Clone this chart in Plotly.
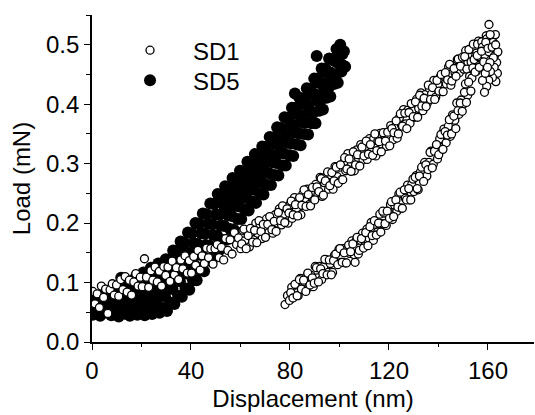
import plotly.graph_objects as go

# ---------------- data ----------------
# SD1 loading branch (open circles), two interleaved passes of read-off points
SD1_LOAD_X = [0.3, 1.2, 2.1, 3.0, 3.8, 4.7, 5.5, 6.4, 7.3, 8.2, 9.0,
              9.9, 10.8, 11.6, 12.5, 13.4, 14.2, 15.1, 16.0, 16.9, 17.7, 18.6, 19.5,
              20.3, 21.2, 22.0, 22.9, 23.8, 24.6, 25.5, 26.4, 27.2, 28.1, 29.0, 29.8,
              30.7, 31.5, 32.4, 33.3, 34.1, 35.0, 35.9, 36.7, 37.6, 38.5, 39.3,
              40.2, 41.1, 41.9, 42.8, 43.7, 44.5, 45.4, 46.3, 47.1, 48.0, 48.9, 49.7,
              50.6, 51.4, 52.3, 53.2, 54.0, 54.9, 55.8, 56.6, 57.5, 58.4, 59.2,
              60.1, 61.0, 61.8, 62.7, 63.6, 64.4, 65.3, 66.2, 67.0, 67.9, 68.8, 69.6,
              70.5, 71.4, 72.2, 73.1, 74.0, 74.8, 75.7, 76.6, 77.4, 78.3, 79.2,
              80.0, 80.9, 81.8, 82.6, 83.5, 84.4, 85.2, 86.1, 87.0, 87.8, 88.7, 89.6,
              90.4, 91.3, 92.2, 93.0, 93.9, 94.8, 95.6, 96.5, 97.4, 98.2, 99.1, 99.9,
              100.8, 101.7, 102.5, 103.4, 104.3, 105.1, 106.0, 106.9, 107.7, 108.6, 109.5,
              110.3, 111.2, 112.1, 112.9, 113.8, 114.7, 115.5, 116.4, 117.3, 118.1, 119.0, 119.9,
              120.7, 121.6, 122.5, 123.3, 124.2, 125.1, 125.9, 126.8, 127.7, 128.5, 129.4,
              130.3, 131.1, 132.0, 132.9, 133.7, 134.6, 135.5, 136.3, 137.2, 138.1, 138.9, 139.8,
              140.6, 141.5, 142.4, 143.2, 144.1, 145.0, 145.8, 146.7, 147.6, 148.4, 149.3,
              150.2, 151.0, 151.9, 152.8, 153.6, 154.5, 155.4, 156.2, 157.1, 158.0, 158.8, 159.7,
              160.4, 161.2]
SD1_LOAD_Y = [0.085, 0.064, 0.081, 0.058, 0.094, 0.075, 0.089, 0.048, 0.088, 0.098, 0.079,
              0.096, 0.077, 0.105, 0.088, 0.110, 0.084, 0.104, 0.079, 0.101, 0.115, 0.094, 0.109,
              0.093, 0.140, 0.109, 0.092, 0.120, 0.104, 0.126, 0.101, 0.119, 0.094, 0.127, 0.112,
              0.126, 0.102, 0.136, 0.113, 0.125, 0.105, 0.138, 0.123, 0.145, 0.116, 0.137,
              0.116, 0.144, 0.129, 0.154, 0.121, 0.145, 0.132, 0.158, 0.142, 0.157, 0.131, 0.157,
              0.164, 0.142, 0.159, 0.138, 0.174, 0.154, 0.172, 0.148, 0.184, 0.164, 0.175,
              0.157, 0.188, 0.170, 0.186, 0.160, 0.185, 0.172, 0.200, 0.183, 0.198, 0.174, 0.193,
              0.207, 0.184, 0.203, 0.183, 0.214, 0.200, 0.224, 0.197, 0.215, 0.225, 0.200,
              0.231, 0.208, 0.243, 0.222, 0.239, 0.214, 0.249, 0.236, 0.257, 0.231, 0.251, 0.240,
              0.265, 0.248, 0.277, 0.245, 0.268, 0.279, 0.257, 0.281, 0.257, 0.295, 0.278, 0.294,
              0.273, 0.302, 0.288, 0.317, 0.289, 0.308, 0.288, 0.323, 0.309, 0.332, 0.306,
              0.329, 0.307, 0.342, 0.320, 0.342, 0.313, 0.338, 0.351, 0.327, 0.349, 0.329, 0.347,
              0.364, 0.340, 0.362, 0.343, 0.377, 0.364, 0.391, 0.367, 0.390, 0.368, 0.390,
              0.378, 0.408, 0.393, 0.419, 0.389, 0.416, 0.402, 0.427, 0.417, 0.440, 0.412, 0.434,
              0.445, 0.421, 0.447, 0.434, 0.463, 0.432, 0.464, 0.453, 0.475, 0.453, 0.473,
              0.459, 0.490, 0.471, 0.492, 0.466, 0.495, 0.486, 0.506, 0.481, 0.505, 0.491, 0.515,
              0.534, 0.493]
SD1_LOAD2_X = [60.5, 61.4, 62.3, 63.1, 64.0, 64.9, 65.7, 66.6, 67.5, 68.3, 69.2,
               70.1, 71.0, 71.8, 72.7, 73.6, 74.4, 75.3, 76.2, 77.0, 77.9, 78.8, 79.6,
               80.5, 81.3, 82.2, 83.1, 83.9, 84.8, 85.7, 86.5, 87.4, 88.3, 89.1,
               90.0, 90.9, 91.7, 92.6, 93.5, 94.3, 95.2, 96.1, 96.9, 97.8, 98.7, 99.5,
               100.4, 101.3, 102.1, 103.0, 103.9, 104.7, 105.6, 106.5, 107.3, 108.2, 109.1, 109.9,
               110.8, 111.7, 112.5, 113.4, 114.3, 115.1, 116.0, 116.9, 117.7, 118.6, 119.5,
               120.3, 121.2, 122.0, 122.9, 123.8, 124.6, 125.5, 126.4, 127.2, 128.1, 129.0, 129.8,
               130.7, 131.6, 132.4, 133.3, 134.2, 135.0, 135.9, 136.8, 137.6, 138.5, 139.4,
               140.2, 141.1, 141.9, 142.8, 143.7, 144.5, 145.4, 146.3, 147.1, 148.0, 148.9, 149.7,
               150.6, 151.5, 152.3, 153.2, 154.1, 154.9, 155.8, 156.7, 157.5, 158.4, 159.3, 160.1, 161.0]
SD1_LOAD2_Y = [0.165, 0.190, 0.157, 0.179, 0.191, 0.168, 0.188, 0.167, 0.204, 0.186, 0.198,
               0.176, 0.198, 0.211, 0.189, 0.203, 0.186, 0.218, 0.204, 0.229, 0.201, 0.224, 0.217,
               0.237, 0.214, 0.231, 0.212, 0.243, 0.230, 0.256, 0.228, 0.248, 0.229, 0.260,
               0.239, 0.261, 0.253, 0.275, 0.247, 0.271, 0.286, 0.263, 0.285, 0.271, 0.294, 0.267,
               0.298, 0.273, 0.310, 0.291, 0.308, 0.287, 0.320, 0.298, 0.315, 0.296, 0.328, 0.313,
               0.338, 0.316, 0.332, 0.314, 0.350, 0.322, 0.337, 0.320, 0.352, 0.338, 0.353,
               0.330, 0.359, 0.352, 0.372, 0.350, 0.384, 0.363, 0.385, 0.359, 0.386, 0.401, 0.379,
               0.404, 0.378, 0.415, 0.397, 0.410, 0.396, 0.432, 0.408, 0.428, 0.408, 0.440,
               0.422, 0.450, 0.421, 0.453, 0.441, 0.467, 0.439, 0.460, 0.447, 0.476, 0.464, 0.479,
               0.480, 0.459, 0.492, 0.471, 0.501, 0.480, 0.501, 0.478, 0.505, 0.495, 0.515, 0.494, 0.513]

# SD1 unloading branch (open circles)
SD1_UNLOAD_X = [78.0, 79.0, 79.8, 80.7, 81.6, 82.4, 83.3, 84.2, 85.0, 85.9, 86.8,
                87.6, 88.5, 89.4, 90.2, 91.1, 92.0, 92.8, 93.7, 94.6, 95.4, 96.3, 97.2, 98.0, 98.9, 99.8,
                100.7, 101.5, 102.4, 103.3, 104.1, 105.0, 105.9, 106.7, 107.6, 108.5, 109.3,
                110.2, 111.1, 111.9, 112.8, 113.7, 114.5, 115.4, 116.3, 117.1, 118.0, 118.9, 119.7,
                120.6, 121.4, 122.3, 123.2, 124.0, 124.9, 125.8, 126.6, 127.5, 128.4, 129.2,
                130.1, 131.0, 131.8, 132.7, 133.6, 134.4, 135.3, 136.2, 137.0, 137.9, 138.8, 139.6,
                140.5, 141.4, 142.2, 143.1, 144.0, 144.8, 145.7, 146.6, 147.4, 148.3, 149.2,
                150.0, 150.9, 151.8, 152.6, 153.5, 154.4, 155.2, 156.1, 157.0, 157.8, 158.7, 159.6,
                160.4, 161.3, 162.1, 163.0]
SD1_UNLOAD_Y = [0.063, 0.078, 0.070, 0.092, 0.076, 0.096, 0.078, 0.107, 0.088, 0.101, 0.111,
                0.092, 0.112, 0.093, 0.127, 0.108, 0.127, 0.105, 0.127, 0.138, 0.117, 0.132, 0.117, 0.146, 0.133, 0.156,
                0.134, 0.157, 0.133, 0.157, 0.149, 0.170, 0.147, 0.170, 0.148, 0.171, 0.183,
                0.161, 0.190, 0.175, 0.201, 0.171, 0.198, 0.185, 0.215, 0.199, 0.217, 0.196, 0.220,
                0.231, 0.206, 0.230, 0.220, 0.249, 0.225, 0.250, 0.242, 0.264, 0.239, 0.265,
                0.253, 0.280, 0.256, 0.286, 0.277, 0.302, 0.279, 0.302, 0.321, 0.299, 0.324, 0.308,
                0.342, 0.327, 0.358, 0.335, 0.363, 0.346, 0.382, 0.373, 0.402, 0.383, 0.407,
                0.400, 0.434, 0.415, 0.447, 0.444, 0.475, 0.455, 0.480, 0.463, 0.496, 0.483, 0.510,
                0.488, 0.515, 0.504, 0.517]
SD1_UNLOAD2_X = [80.3, 81.2, 82.0, 82.9, 83.8, 84.6, 85.5, 86.4, 87.2, 88.1, 89.0, 89.8,
                 90.7, 91.5, 92.4, 93.3, 94.1, 95.0, 95.9, 96.7, 97.6, 98.5, 99.3,
                 100.2, 101.1, 101.9, 102.8, 103.7, 104.5, 105.4, 106.3, 107.1, 108.0, 108.9, 109.7,
                 110.6, 111.5, 112.3, 113.2, 114.1, 114.9, 115.8, 116.7, 117.5, 118.4, 119.3,
                 120.2, 121.0, 121.9, 122.8, 123.6, 124.5, 125.4, 126.2, 127.1, 128.0, 128.8, 129.7,
                 130.6, 131.4, 132.3, 133.2, 134.0, 134.9, 135.8, 136.6, 137.5, 138.4, 139.2,
                 140.1, 141.0, 141.8, 142.7, 143.6, 144.4, 145.3, 146.2, 147.0, 147.9, 148.8, 149.6,
                 150.5, 151.3, 152.2, 153.1, 153.9, 154.8, 155.7, 156.5, 157.4, 158.3, 159.1, 160.0,
                 160.9, 161.7, 162.6,
                 163.2, 163.8, 163.5, 164.0, 163.1, 162.5, 161.8, 162.2, 161.0, 160.3, 159.5, 158.6,
                 157.8, 158.9, 160.8, 159.8]
SD1_UNLOAD2_Y = [0.083, 0.074, 0.097, 0.078, 0.105, 0.089, 0.104, 0.085, 0.116, 0.096, 0.108, 0.099,
                 0.125, 0.101, 0.123, 0.115, 0.139, 0.113, 0.138, 0.113, 0.137, 0.148, 0.130,
                 0.157, 0.134, 0.150, 0.133, 0.163, 0.152, 0.165, 0.134, 0.176, 0.154, 0.174, 0.158,
                 0.184, 0.162, 0.194, 0.179, 0.204, 0.180, 0.200, 0.185, 0.220, 0.199, 0.220,
                 0.208, 0.236, 0.211, 0.239, 0.227, 0.252, 0.225, 0.256, 0.239, 0.258, 0.239, 0.274,
                 0.277, 0.258, 0.279, 0.294, 0.270, 0.298, 0.290, 0.319, 0.293, 0.321, 0.332,
                 0.315, 0.349, 0.324, 0.354, 0.348, 0.374, 0.350, 0.380, 0.359, 0.389, 0.402, 0.388,
                 0.420, 0.403, 0.437, 0.422, 0.461, 0.454, 0.482, 0.462, 0.489, 0.471, 0.504, 0.494,
                 0.517, 0.496, 0.481,
                 0.438, 0.452, 0.470, 0.488, 0.500, 0.462, 0.445, 0.478, 0.455, 0.440, 0.430, 0.420,
                 0.440, 0.452, 0.470, 0.462]

# SD5 loading branch (filled circles): lower edge, two inner rows, upper edge of the dense band
SD5_LOW_X = [0.3, 1.8, 3.3, 4.8, 6.3, 7.8, 9.3, 10.8, 12.3, 13.8, 15.3, 16.8, 18.3, 19.8, 21.3, 22.8, 24.3,
             25.8, 27.3, 28.8, 30.3, 31.8, 33.3, 34.8, 36.3, 37.8, 39.3, 40.8, 42.3, 43.8, 45.3, 46.8, 48.3,
             49.8, 51.3, 52.8, 54.3, 55.8, 57.3, 58.8, 60.3, 61.8, 63.3, 64.8, 66.3, 67.8, 69.3, 70.8, 72.3,
             73.8, 75.3, 76.8, 78.3, 79.8, 81.3, 82.8, 84.3, 85.8, 87.3, 88.8, 90.3, 91.8, 93.3, 94.8, 96.3,
             97.8, 99.3, 100.8, 102.3]
SD5_LOW_Y = [0.046, 0.050, 0.044, 0.049, 0.052, 0.045, 0.048, 0.043, 0.051, 0.047, 0.044, 0.050, 0.046, 0.049,
             0.045, 0.052, 0.047, 0.055, 0.049, 0.057, 0.052, 0.066, 0.064, 0.078, 0.076, 0.090, 0.088,
             0.104, 0.104, 0.121, 0.119, 0.137, 0.136, 0.153, 0.154, 0.171, 0.172, 0.190, 0.189, 0.207,
             0.207, 0.223, 0.221, 0.236, 0.234, 0.250, 0.248, 0.264, 0.264, 0.281, 0.280, 0.297, 0.297,
             0.314, 0.313, 0.332, 0.331, 0.350, 0.349, 0.368, 0.368, 0.389, 0.391, 0.411, 0.413, 0.434,
             0.436, 0.455, 0.463]
SD5_MID1_X = [1.0, 2.5, 4.0, 5.5, 7.0, 8.5, 10.0, 11.5, 13.0, 14.5, 16.0, 17.5, 19.0, 20.5, 22.0, 23.5, 25.0,
              26.5, 28.0, 29.5, 31.0, 32.5, 34.0, 35.5, 37.0, 38.5, 40.0, 41.5, 43.0, 44.5, 46.0, 47.5, 49.0,
              50.5, 52.0, 53.5, 55.0, 56.5, 58.0, 59.5, 61.0, 62.5, 64.0, 65.5, 67.0, 68.5, 70.0, 71.5, 73.0,
              74.5, 76.0, 77.5, 79.0, 80.5, 82.0, 83.5, 85.0, 86.5, 88.0, 89.5, 91.0, 92.5, 94.0, 95.5, 97.0,
              98.5, 100.0, 101.5]
SD5_MID1_Y = [0.058, 0.053, 0.061, 0.055, 0.063, 0.056, 0.065, 0.058, 0.068, 0.060, 0.070, 0.063, 0.073,
              0.066, 0.076, 0.069, 0.080, 0.073, 0.084, 0.077, 0.091, 0.089, 0.104, 0.102, 0.117, 0.115,
              0.130, 0.129, 0.147, 0.146, 0.163, 0.162, 0.180, 0.179, 0.196, 0.195, 0.213, 0.212, 0.229,
              0.228, 0.245, 0.242, 0.258, 0.256, 0.272, 0.269, 0.285, 0.284, 0.302, 0.301, 0.318, 0.317,
              0.335, 0.334, 0.352, 0.351, 0.369, 0.369, 0.387, 0.386, 0.406, 0.407, 0.426, 0.427, 0.447,
              0.448, 0.467, 0.465]
SD5_MID2_X = [0.6, 2.1, 3.6, 5.1, 6.6, 8.1, 9.6, 11.1, 12.6, 14.1, 15.6, 17.1, 18.6, 20.1, 21.6, 23.1, 24.6,
              26.1, 27.6, 29.1, 30.6, 32.1, 33.6, 35.1, 36.6, 38.1, 39.6, 41.1, 42.6, 44.1, 45.6, 47.1, 48.6,
              50.1, 51.6, 53.1, 54.6, 56.1, 57.6, 59.1, 60.6, 62.1, 63.6, 65.1, 66.6, 68.1, 69.6, 71.1, 72.6,
              74.1, 75.6, 77.1, 78.6, 80.1, 81.6, 83.1, 84.6, 86.1, 87.6, 89.1, 90.6, 92.1, 93.6, 95.1, 96.6,
              98.1, 99.6, 101.1]
SD5_MID2_Y = [0.059, 0.067, 0.062, 0.071, 0.065, 0.075, 0.068, 0.079, 0.073, 0.084, 0.078, 0.089, 0.083,
              0.094, 0.088, 0.100, 0.094, 0.106, 0.100, 0.112, 0.107, 0.123, 0.121, 0.137, 0.135, 0.151,
              0.149, 0.166, 0.165, 0.183, 0.182, 0.199, 0.198, 0.215, 0.214, 0.231, 0.229, 0.245, 0.244,
              0.261, 0.259, 0.275, 0.272, 0.288, 0.286, 0.301, 0.299, 0.316, 0.315, 0.333, 0.332, 0.349,
              0.348, 0.366, 0.365, 0.383, 0.382, 0.400, 0.399, 0.417, 0.416, 0.435, 0.435, 0.453, 0.453,
              0.472, 0.472, 0.484]
SD5_HIGH_X = [1.3, 2.8, 4.3, 5.8, 7.3, 8.8, 10.3, 11.8, 13.3, 14.8, 16.3, 17.8, 19.3, 20.8, 22.3, 23.8, 25.3,
              26.8, 28.3, 29.8, 31.3, 32.8, 34.3, 35.8, 37.3, 38.8, 40.3, 41.8, 43.3, 44.8, 46.3, 47.8, 49.3,
              50.8, 52.3, 53.8, 55.3, 56.8, 58.3, 59.8, 61.3, 62.8, 64.3, 65.8, 67.3, 68.8, 70.3, 71.8, 73.3,
              74.8, 76.3, 77.8, 79.3, 80.8, 82.3, 83.8, 85.3, 86.8, 88.3, 89.8, 91.3, 92.8, 94.3, 95.8, 97.3,
              98.8, 100.3, 101.8, 82.0, 90.8]
SD5_HIGH_Y = [0.073, 0.069, 0.079, 0.074, 0.085, 0.080, 0.091, 0.108, 0.089, 0.102, 0.097, 0.110, 0.104,
              0.117, 0.112, 0.125, 0.119, 0.132, 0.127, 0.139, 0.138, 0.154, 0.153, 0.169, 0.167, 0.184,
              0.183, 0.200, 0.199, 0.216, 0.215, 0.233, 0.232, 0.249, 0.246, 0.262, 0.259, 0.276, 0.273,
              0.288, 0.287, 0.303, 0.300, 0.316, 0.313, 0.329, 0.328, 0.345, 0.344, 0.361, 0.360, 0.378,
              0.377, 0.394, 0.394, 0.411, 0.410, 0.427, 0.426, 0.443, 0.443, 0.460, 0.460, 0.477, 0.476,
              0.493, 0.500, 0.489, 0.418, 0.481]

X_TICKS = [0, 40, 80, 120, 160]
Y_TICKS = [0.0, 0.1, 0.2, 0.3, 0.4, 0.5]
X_RANGE = [0, 178.6]
Y_RANGE = [0, 0.55]

FONT = "Liberation Sans, Arial, Helvetica, sans-serif"

# ---------------- figure ----------------
sd5_x = SD5_LOW_X + SD5_MID1_X + SD5_MID2_X + SD5_HIGH_X
sd5_y = SD5_LOW_Y + SD5_MID1_Y + SD5_MID2_Y + SD5_HIGH_Y
sd1_x = SD1_LOAD_X + SD1_LOAD2_X + SD1_UNLOAD_X + SD1_UNLOAD2_X
sd1_y = SD1_LOAD_Y + SD1_LOAD2_Y + SD1_UNLOAD_Y + SD1_UNLOAD2_Y

fig = go.Figure()
fig.add_trace(go.Scatter(
    x=sd5_x, y=sd5_y, mode="markers", name="SD5", legend="legend2",
    marker=dict(symbol="circle", size=12, color="black", line=dict(width=0)),
))
fig.add_trace(go.Scatter(
    x=sd1_x, y=sd1_y, mode="markers", name="SD1", legend="legend",
    marker=dict(symbol="circle", size=8, color="white", line=dict(width=1.3, color="black")),
))

axis_common = dict(showgrid=False, zeroline=False, showline=True, linecolor="black", linewidth=1.6,
                   tickcolor="black", tickwidth=1.4, ticklen=6,
                   tickfont=dict(family=FONT, size=24, color="black"))
legend_common = dict(xanchor="left", yanchor="top", bgcolor="rgba(0,0,0,0)", itemwidth=76,
                     font=dict(family=FONT, size=24, color="black"), itemsizing="trace")

fig.update_layout(
    width=535, height=415,
    margin=dict(l=92, r=1, t=15, b=73, autoexpand=False),
    paper_bgcolor="white", plot_bgcolor="white",
    font=dict(family=FONT, size=24, color="black"),
    showlegend=True,
    legend=dict(x=0.034, y=0.96, **legend_common),
    legend2=dict(x=0.034, y=0.868, **legend_common),
    xaxis=dict(range=X_RANGE, tickvals=X_TICKS, ticks="outside",
               minor=dict(dtick=20, tick0=0, ticks="outside", ticklen=3, tickcolor="black", tickwidth=1.2),
               title=dict(text="Displacement (nm)", font=dict(family=FONT, size=24, color="black"), standoff=8),
               **axis_common),
    yaxis=dict(range=Y_RANGE, tickvals=Y_TICKS, tickformat=".1f", ticks="outside",
               minor=dict(dtick=0.05, tick0=0, ticks="outside", ticklen=4, tickcolor="black", tickwidth=1.2),
               title=dict(text="Load (mN)", font=dict(family=FONT, size=24, color="black"), standoff=9),
               **axis_common),
    xaxis2=dict(overlaying="x", side="top", anchor="y", range=X_RANGE, tickvals=X_TICKS, ticks="inside",
                showticklabels=False,
                minor=dict(dtick=20, tick0=0, ticks="inside", ticklen=3, tickcolor="black", tickwidth=1.2),
                **axis_common),
    yaxis2=dict(overlaying="y", side="right", anchor="x", range=Y_RANGE, tickvals=Y_TICKS, ticks="inside",
                showticklabels=False,
                minor=dict(dtick=0.05, tick0=0, ticks="inside", ticklen=3, tickcolor="black", tickwidth=1.2),
                **axis_common),
)

fig.write_html("out.html", config={"displayModeBar": False},
               post_script="document.body.style.margin='0';")
